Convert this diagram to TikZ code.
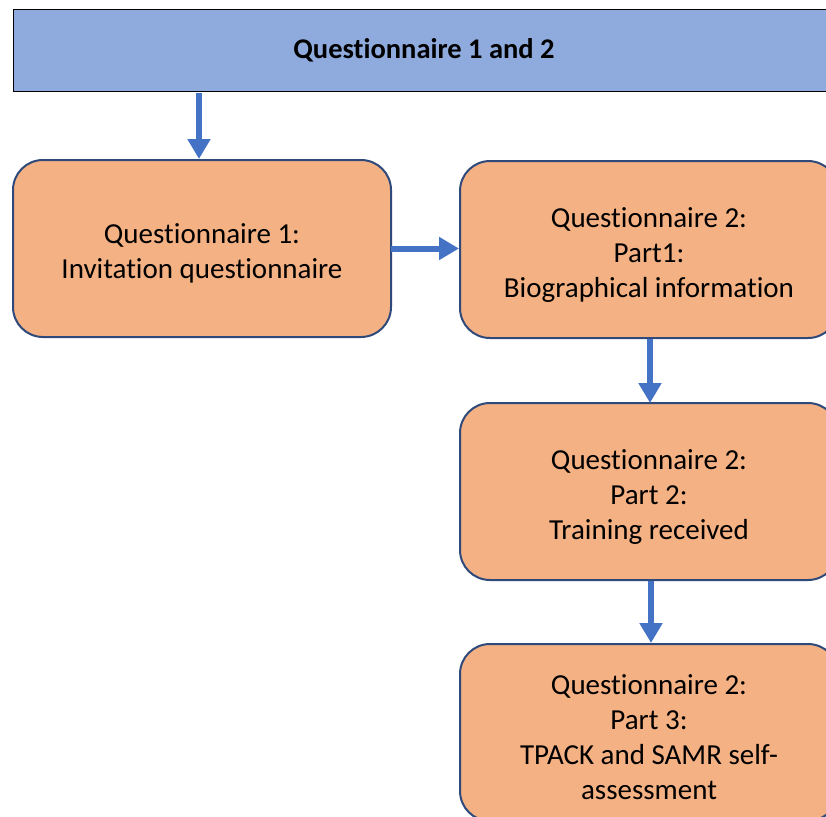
\documentclass[tikz,border=0pt]{standalone}
\usepackage{fontspec}
\setmainfont[Ligatures=NoCommon]{Carlito}
\usetikzlibrary{arrows.meta}
\definecolor{headblue}{HTML}{8FAADC}
\definecolor{stepfill}{HTML}{F4B183}
\definecolor{stepline}{HTML}{2F4A7A}
\definecolor{flowblue}{HTML}{4472C4}
% extra room above the first line of each step box
\newcommand{\topgap}{\rule{0pt}{30pt}}
\tikzset{
  header/.style={draw=black, line width=0.8pt, fill=headblue, rectangle,
    minimum width=822pt, minimum height=82pt, inner sep=0pt,
    font=\fontsize{28.5}{34}\selectfont\bfseries},
  stepbox/.style={draw=stepline, line width=2pt, fill=stepfill, rectangle,
    rounded corners=30pt, minimum width=378pt, minimum height=177pt,
    inner sep=0pt, align=center, font=\fontsize{29}{35}\selectfont},
  flow/.style={draw=flowblue, line width=6pt,
    -{Triangle[width=22pt,length=20pt]}, shorten >=0pt}
}
\begin{document}
\begin{tikzpicture}[x=1pt,y=-1pt]
\useasboundingbox (0,0) rectangle (826,816);
\clip (0,0) rectangle (826,816);
\node[header] (top) at (424,50) {Questionnaire 1 and 2};
\node[stepbox] (q1) at (202,248.5) {\topgap Questionnaire 1:\\Invitation questionnaire};
\node[stepbox] (p1) at (649,249.5) {\topgap Questionnaire 2:\\Part1:\\Biographical information};
\node[stepbox] (p2) at (649,491.5) {\topgap Questionnaire 2:\\Part 2:\\Training received};
\node[stepbox] (p3) at (649,732.5) {\topgap Questionnaire 2:\\Part 3:\\TPACK and SAMR self-\\assessment};
\draw[flow] (top.south -| 199,0) ++(0,2) -- (199,159);
\draw[flow] (q1.east) ++(-1,0) -- (p1.west |- q1.east);
\draw[flow] (p1.south -| 650,0) -- (650,403);
\draw[flow] (p2.south -| 651,0) -- (651,643);
\end{tikzpicture}
\end{document}
